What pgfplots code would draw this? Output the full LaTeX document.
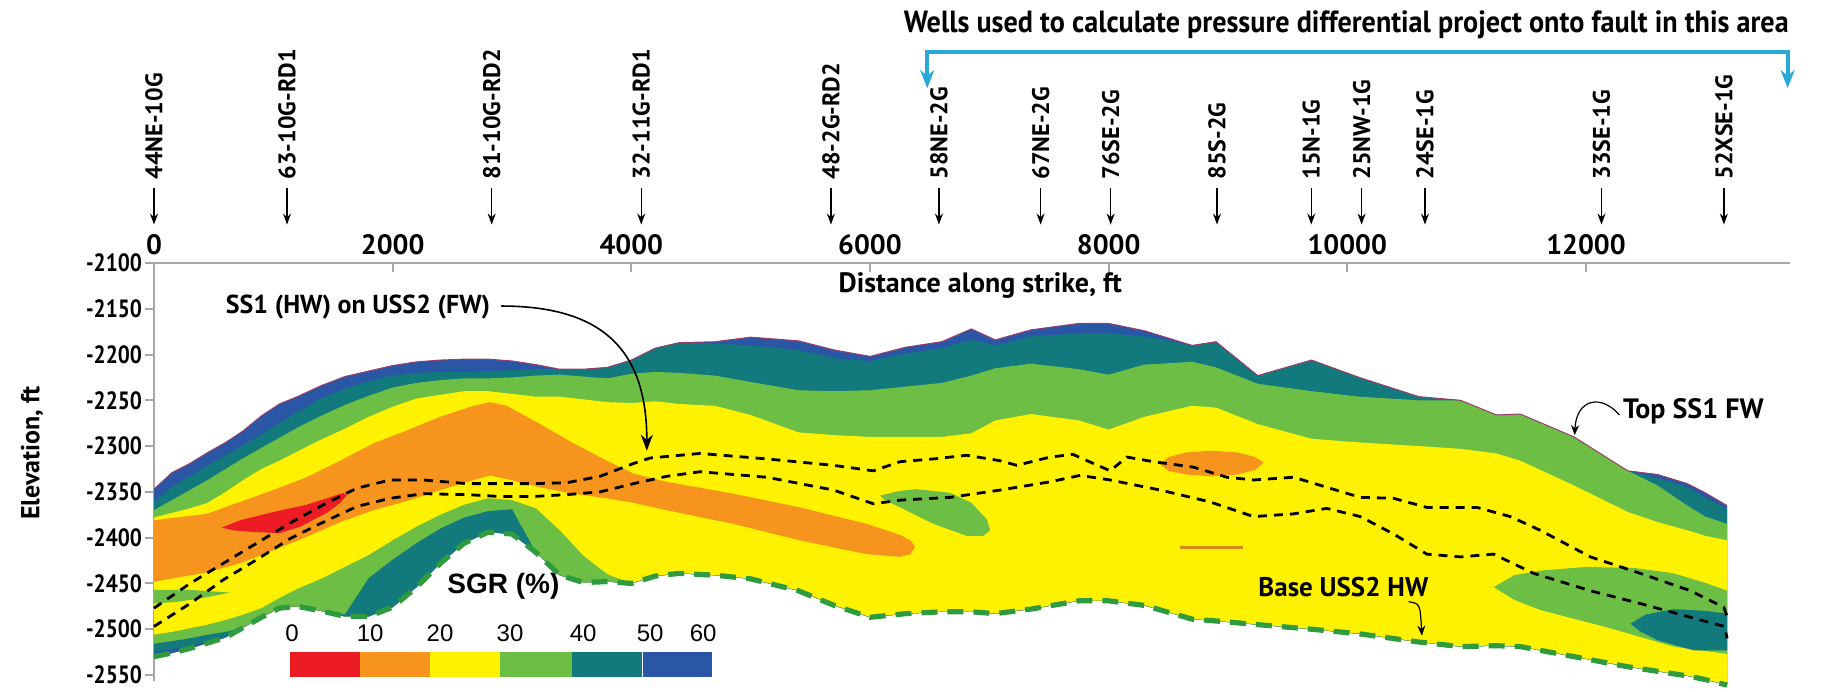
\documentclass[border=0pt]{standalone}
\usepackage{fontspec}
\setmainfont{PT Sans}
\newfontfamily\condfont{PT Sans}[FakeStretch=0.85]
\newfontfamily\titlefont{PT Sans}[FakeStretch=0.92]
\newfontfamily\arialfont{Liberation Sans}
\usepackage{pgfplots}
\usepackage{pgfplotstable}
\pgfplotsset{compat=1.18}
\usepgfplotslibrary{fillbetween}
\usetikzlibrary{arrows.meta}

\definecolor{cred}{HTML}{ED1C24}
\definecolor{corange}{HTML}{F7941D}
\definecolor{cyellow}{HTML}{FFF200}
\definecolor{cgreen}{HTML}{6DBE45}
\definecolor{cteal}{HTML}{12797D}
\definecolor{cblue}{HTML}{2A56A6}
\definecolor{ccyan}{HTML}{29A9D8}
\definecolor{cdgreen}{HTML}{2E9B3E}
\definecolor{ctop}{HTML}{9A3F6A}
\definecolor{cline}{HTML}{D98A1F}

\pgfplotstableread{
x T B1 B2 B3 G2 T2 BL Bot
0 -2347 -2361 -2370 -2378 -2506 -2516 -2525 -2530
150 -2329 -2345 -2359 -2373 -2503 -2513 -2522 -2526
300 -2319 -2333 -2348 -2368 -2499 -2510 -2518 -2521
450 -2307 -2321 -2337 -2362 -2495 -2506 -2515 -2515
600 -2296 -2310 -2325 -2350 -2490 -2503 -2509 -2509
750 -2283 -2299 -2313 -2337 -2484 -2498 -2498 -2498
900 -2267 -2287 -2302 -2325 -2477 -2487 -2487 -2487
1050 -2254 -2275 -2291 -2316 -2466 -2477 -2477 -2477
1200 -2246 -2263 -2280 -2306 -2456 -2475 -2475 -2475
1400 -2234 -2248 -2267 -2293 -2445 -2480 -2480 -2480
1600 -2224 -2237 -2255 -2281 -2432 -2484 -2486 -2486
1800 -2218 -2229 -2245 -2268 -2419 -2444 -2486 -2486
2000 -2212 -2223 -2236 -2257 -2403 -2424 -2476 -2476
2200 -2208 -2220 -2231 -2248 -2388 -2406 -2454 -2454
2400 -2206 -2219 -2228 -2244 -2375 -2390 -2428 -2428
2600 -2205 -2219 -2226 -2240 -2364 -2378 -2406 -2406
2800 -2205 -2218 -2226 -2240 -2357 -2371 -2394 -2394
3000 -2207 -2217 -2225 -2243 -2359 -2369 -2396 -2396
3200 -2211 -2216 -2223 -2246 -2368 -2416 -2416 -2416
3400 -2216 -2216 -2222 -2246 -2392 -2441 -2441 -2441
3600 -2216 -2216 -2224 -2249 -2420 -2449 -2449 -2449
3800 -2214 -2214 -2226 -2252 -2440 -2448 -2448 -2448
4000 -2206 -2206 -2221 -2253 -2450 -2450 -2450 -2450
4200 -2193 -2193 -2219 -2251 -2442 -2442 -2442 -2442
4400 -2187 -2187 -2220 -2254 -2439 -2439 -2439 -2439
4700 -2186 -2188 -2223 -2256 -2441 -2441 -2441 -2441
5000 -2181 -2190 -2230 -2266 -2445 -2445 -2445 -2445
5400 -2185 -2195 -2239 -2285 -2458 -2458 -2458 -2458
5700 -2195 -2204 -2240 -2288 -2474 -2474 -2474 -2474
6000 -2202 -2207 -2239 -2290 -2487 -2487 -2487 -2487
6300 -2192 -2199 -2235 -2290 -2483 -2483 -2483 -2483
6600 -2186 -2193 -2231 -2290 -2481 -2481 -2481 -2481
6850 -2172 -2184 -2223 -2286 -2481 -2481 -2481 -2481
7050 -2184 -2190 -2215 -2272 -2483 -2483 -2483 -2483
7350 -2173 -2180 -2210 -2265 -2478 -2478 -2478 -2478
7750 -2166 -2177 -2216 -2272 -2469 -2469 -2469 -2469
8000 -2166 -2177 -2222 -2282 -2469 -2469 -2469 -2469
8300 -2174 -2180 -2211 -2268 -2474 -2474 -2474 -2474
8700 -2190 -2190 -2208 -2256 -2489 -2489 -2489 -2489
8900 -2186 -2186 -2214 -2258 -2491 -2491 -2491 -2491
9250 -2223 -2223 -2232 -2276 -2495 -2495 -2495 -2495
9700 -2206 -2206 -2240 -2292 -2500 -2500 -2500 -2500
10100 -2225 -2225 -2246 -2296 -2505 -2505 -2505 -2505
10600 -2246 -2246 -2250 -2300 -2514 -2514 -2514 -2514
10950 -2250 -2250 -2250 -2303 -2519 -2519 -2519 -2519
11250 -2266 -2266 -2266 -2308 -2518 -2518 -2518 -2518
11450 -2265 -2265 -2265 -2316 -2519 -2519 -2519 -2519
11900 -2290 -2290 -2290 -2343 -2530 -2530 -2530 -2530
12350 -2327 -2327 -2327 -2372 -2541 -2541 -2541 -2541
12600 -2331 -2335 -2343 -2383 -2546 -2546 -2546 -2546
12850 -2341 -2345 -2365 -2392 -2551 -2551 -2551 -2551
13000 -2351 -2356 -2377 -2398 -2555 -2555 -2555 -2555
13183 -2365 -2369 -2385 -2403 -2561 -2561 -2561 -2561
}\grid

\newcommand{\well}[2]{%
  \node[rotate=90, anchor=west, inner sep=0pt, font=\bfseries\fontsize{12}{12}\selectfont] at (axis cs:#1,-2009) {#2};
  \draw[line width=0.6pt, -{Stealth[length=5.5pt,width=4pt]}] (axis cs:#1,-2018) -- (axis cs:#1,-2058);}

\begin{document}
\begin{tikzpicture}
\begin{axis}[
  at={(77pt,4.8pt)}, anchor=south west,
  scale only axis, width=818pt, height=209.2pt,
  xmin=0, xmax=13710, ymin=-2557, ymax=-2100,
  axis x line=top, axis y line=left,
  axis line style={-, draw=gray!70, line width=1.2pt},
  tick align=outside, major tick length=4.5pt,
  scaled x ticks=false, scaled y ticks=false,
  xtick={0,2000,4000,6000,8000,10000,12000},
  xticklabels={0,2000,4000,6000,8000,10000,12000},
  ytick={-2550,-2500,-2450,-2400,-2350,-2300,-2250,-2200,-2150,-2100},
  yticklabels={-2550,-2500,-2450,-2400,-2350,-2300,-2250,-2200,-2150,-2100},
  xtick style={draw=gray!70, line width=1pt, yshift=-4.5pt},
  ytick style={draw=gray!70, line width=1pt},
  xticklabel style={font=\bfseries\fontsize{14}{14}\selectfont},
  yticklabel style={font=\condfont\bfseries\fontsize{12.5}{12.5}\selectfont},
  xticklabel shift=-4pt, yticklabel shift=-2pt,
  xlabel={Distance along strike, ft},
  xlabel style={at={(axis description cs:0.505,0.947)}, anchor=center, font=\bfseries\fontsize{14}{14}\selectfont},
  ylabel={Elevation, ft},
  ylabel style={at={(axis description cs:-0.0746,0.546)}, anchor=center, font=\bfseries\fontsize{13}{13}\selectfont},
  clip=false,
]
% boundaries
\addplot[draw=none, name path=pT, forget plot] table[x=x,y=T]{\grid};
\addplot[draw=none, name path=pB1, forget plot] table[x=x,y=B1]{\grid};
\addplot[draw=none, name path=pB2, forget plot] table[x=x,y=B2]{\grid};
\addplot[draw=none, name path=pB3, forget plot] table[x=x,y=B3]{\grid};
\addplot[draw=none, name path=pG2, forget plot] table[x=x,y=G2]{\grid};
\addplot[draw=none, name path=pT2, forget plot] table[x=x,y=T2]{\grid};
\addplot[draw=none, name path=pBL, forget plot] table[x=x,y=BL]{\grid};
\addplot[draw=none, name path=pBot, forget plot] table[x=x,y=Bot]{\grid};
% bands
\addplot[fill=cblue, draw=none] fill between[of=pT and pBot];
\addplot[fill=cteal, draw=none] fill between[of=pB1 and pBot];
\addplot[fill=cgreen, draw=none] fill between[of=pB2 and pBot];
\addplot[fill=cyellow, draw=none] fill between[of=pB3 and pBot];
\addplot[fill=cgreen, draw=none] fill between[of=pG2 and pBot];
\addplot[fill=cteal, draw=none] fill between[of=pT2 and pBot];
\addplot[fill=cblue, draw=none] fill between[of=pBL and pBot];
% orange band
\addplot[fill=corange, draw=none] coordinates {(0,-2381) (442,-2374) (1000,-2348) (1280,-2334) (1560,-2316) (1839,-2297) (2118,-2283) (2398,-2268) (2677,-2256) (2817,-2252) (2956,-2256) (3236,-2276) (3515,-2297) (3795,-2316) (4017,-2330) (4297,-2339) (4856,-2352) (5414,-2367) (5973,-2385) (6253,-2397) (6340,-2403) (6378,-2410) (6340,-2418) (6253,-2421) (5973,-2418) (5414,-2403) (4856,-2385) (4297,-2370) (4018,-2362) (3795,-2357) (3515,-2352) (3236,-2345) (2956,-2336) (2817,-2332) (2677,-2337) (2398,-2348) (2118,-2360) (1839,-2370) (1560,-2383) (1280,-2399) (1000,-2414) (721,-2428) (442,-2438) (0,-2448)} -- cycle;
% red blob
\addplot[fill=cred, draw=none] coordinates {(568,-2389) (721,-2381) (1000,-2372) (1280,-2364) (1448,-2357) (1587,-2351) (1615,-2354) (1560,-2362) (1448,-2373) (1224,-2388) (1056,-2395) (861,-2394) (665,-2392)} -- cycle;
% green wedge left
\addplot[fill=cgreen, draw=none] coordinates {(0,-2457) (300,-2457) (637,-2460) (450,-2465) (200,-2470) (0,-2472)} -- cycle;
% green lens middle
\addplot[fill=cgreen, draw=none] coordinates {(6085,-2354) (6250,-2349) (6392,-2347) (6672,-2351) (6850,-2362) (6980,-2380) (7007,-2392) (6950,-2398) (6811,-2398) (6532,-2385) (6253,-2367) (6113,-2358)} -- cycle;
% small orange lens
\addplot[fill=corange, draw=none] coordinates {(8432,-2320) (8500,-2312) (8650,-2307) (8865,-2305) (9080,-2307) (9230,-2312) (9298,-2318) (9230,-2326) (9080,-2331) (8865,-2333) (8650,-2331) (8500,-2327)} -- cycle;
\addplot[draw=cline, line width=1.3pt] coordinates {(8600,-2411) (9130,-2411)};
% right green lens and teal lens
\addplot[fill=cgreen, draw=none] coordinates {(11227,-2454) (11400,-2441) (11618,-2436) (12000,-2432) (12400,-2433) (12736,-2439) (13015,-2450) (13183,-2458) (13183,-2527) (12736,-2519) (12177,-2498) (11618,-2479) (11400,-2468)} -- cycle;
\addplot[fill=cteal, draw=none] coordinates {(12373,-2494) (12500,-2484) (12736,-2478) (13000,-2480) (13183,-2483) (13183,-2523) (12900,-2523) (12600,-2512) (12450,-2502)} -- cycle;
% outlines
\addplot[draw=ctop, line width=0.5pt] table[x=x,y=T]{\grid};
\addplot[draw=cdgreen, line width=2.6pt, dash pattern=on 8pt off 5pt] table[x=x,y=Bot]{\grid};
% dashed fault juxtaposition lines
\addplot[black, line width=1.4pt, dash pattern=on 4.5pt off 3.5pt] coordinates {(0,-2477) (302,-2450) (581,-2428) (861,-2406) (1140,-2384) (1420,-2364) (1699,-2346) (1979,-2337) (2258,-2337) (2621,-2341) (2900,-2341) (3180,-2341) (3459,-2340) (3738,-2333) (4018,-2319) (4158,-2313) (4576,-2308) (5135,-2314) (5694,-2321) (6029,-2327) (6253,-2317) (6532,-2314) (6811,-2310) (7091,-2316) (7230,-2321) (7510,-2312) (7700,-2309) (7873,-2319) (8013,-2327) (8153,-2312) (8376,-2317) (8712,-2323) (8991,-2334) (9215,-2337) (9550,-2334) (9829,-2345) (10109,-2356) (10388,-2357) (10667,-2367) (11087,-2367) (11366,-2377) (11618,-2392) (12037,-2421) (12456,-2439) (12876,-2458) (13155,-2476) (13183,-2486)};
\addplot[black, line width=1.4pt, dash pattern=on 4.5pt off 3.5pt] coordinates {(0,-2497) (302,-2472) (581,-2446) (861,-2424) (1140,-2401) (1420,-2383) (1699,-2366) (1979,-2357) (2258,-2352) (2621,-2353) (2900,-2355) (3180,-2355) (3459,-2353) (3738,-2350) (4018,-2341) (4297,-2333) (4576,-2328) (5135,-2334) (5694,-2348) (6029,-2363) (6253,-2359) (6672,-2356) (7091,-2348) (7510,-2339) (7761,-2332) (8013,-2337) (8432,-2348) (8851,-2361) (9215,-2377) (9550,-2374) (9829,-2368) (10109,-2377) (10388,-2396) (10667,-2418) (10947,-2421) (11226,-2418) (11562,-2439) (12037,-2458) (12456,-2472) (12876,-2487) (13160,-2497) (13183,-2510)};
% colour scale
\fill[cred] (axis cs:1140,-2525) rectangle (axis cs:1727,-2552);
\fill[corange] (axis cs:1727,-2525) rectangle (axis cs:2313,-2552);
\fill[cyellow] (axis cs:2313,-2525) rectangle (axis cs:2900,-2552);
\fill[cgreen] (axis cs:2900,-2525) rectangle (axis cs:3504,-2552);
\fill[cteal] (axis cs:3504,-2525) rectangle (axis cs:4090,-2552);
\fill[cblue] (axis cs:4090,-2525) rectangle (axis cs:4677,-2552);
\draw[white, line width=0.5pt] (axis cs:4090,-2525) -- (axis cs:4090,-2552);
\node[font=\arialfont\fontsize{12}{12}\selectfont] at (axis cs:1157,-2504) {0};
\node[font=\arialfont\fontsize{12}{12}\selectfont] at (axis cs:1811,-2504) {10};
\node[font=\arialfont\fontsize{12}{12}\selectfont] at (axis cs:2397,-2504) {20};
\node[font=\arialfont\fontsize{12}{12}\selectfont] at (axis cs:2984,-2504) {30};
\node[font=\arialfont\fontsize{12}{12}\selectfont] at (axis cs:3596,-2504) {40};
\node[font=\arialfont\fontsize{12}{12}\selectfont] at (axis cs:4158,-2504) {50};
\node[font=\arialfont\fontsize{12}{12}\selectfont] at (axis cs:4602,-2504) {60};
\node[font=\arialfont\bfseries\fontsize{14}{14}\selectfont] at (axis cs:2928,-2453) {SGR (\%)};
% annotations
\node[font=\bfseries\fontsize{13}{13}\selectfont] at (axis cs:1710,-2148) {SS1 (HW) on USS2 (FW)};
\draw[line width=0.8pt, -{Stealth[length=8pt,width=6pt]}] (axis cs:2910,-2147) .. controls (axis cs:3800,-2147) and (axis cs:4130,-2200) .. (axis cs:4130,-2305);
\node[font=\bfseries\fontsize{14}{14}\selectfont] at (axis cs:12900,-2262) {Top SS1 FW};
\draw[line width=0.6pt, -{Stealth[length=5pt,width=4pt]}] (axis cs:12280,-2266) .. controls (axis cs:12130,-2243) and (axis cs:11920,-2248) .. (axis cs:11905,-2288);
\node[font=\bfseries\fontsize{13.5}{13.5}\selectfont] at (axis cs:9967,-2454) {Base USS2 HW};
\draw[line width=0.6pt, -{Stealth[length=5pt,width=4pt]}] (axis cs:10514,-2470) .. controls (axis cs:10610,-2472) .. (axis cs:10625,-2507);
% wells
\well{0}{44NE-10G}
\well{1115}{63-10G-RD1}
\well{2830}{81-10G-RD2}
\well{4083}{32-11G-RD1}
\well{5673}{48-2G-RD2}
\well{6578}{58NE-2G}
\well{7430}{67NE-2G}
\well{8017}{76SE-2G}
\well{8908}{85S-2G}
\well{9698}{15N-1G}
\well{10120}{25NW-1G}
\well{10651}{24SE-1G}
\well{12130}{33SE-1G}
\well{13156}{52XSE-1G}
% bracket and title
\draw[ccyan, line width=2pt, {Stealth[length=9pt,width=7pt]}-{Stealth[length=9pt,width=7pt]}] (axis cs:6480,-1909) -- (axis cs:6480,-1869) -- (axis cs:13690,-1869) -- (axis cs:13690,-1909);
\node[font=\titlefont\bfseries\fontsize{15.3}{15.3}\selectfont] at (axis cs:9992,-1840) {Wells used to calculate pressure differential project onto fault in this area};
\end{axis}
\pgfresetboundingbox
\useasboundingbox (0,0) rectangle (918.5pt,345.5pt);
\end{tikzpicture}
\end{document}
